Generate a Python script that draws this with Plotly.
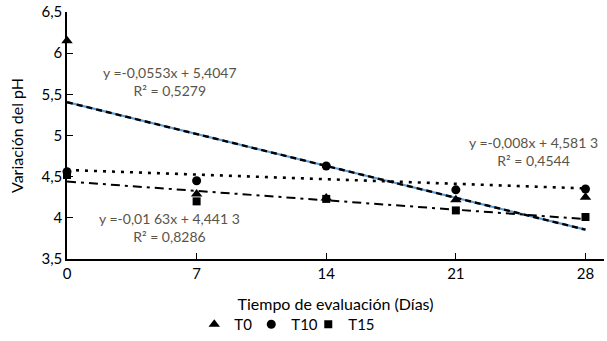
import plotly.graph_objects as go

# Data
dias = [0, 7, 14, 21, 28]
t0 = [6.15, 4.29, 4.24, 4.22, 4.25]
t10 = [4.56, 4.45, 4.63, 4.34, 4.35]
t15 = [4.52, 4.20, 4.23, 4.09, 4.01]
series_names = ["T0", "T10", "T15"]

# Trendline coefficients (as printed)
slopes = [-0.0553, -0.008, -0.0163]
intercepts = [5.4047, 4.5813, 4.4413]
eq_texts = [
    "y =-0,0553x + 5,4047<br>R² = 0,5279",
    "y =-0,008x + 4,581 3<br>R² = 0,4544",
    "y =-0,01 63x + 4,441 3<br>R² = 0,8286",
]
x_ticks = [0, 7, 14, 21, 28]
y_ticks = [3.5, 4, 4.5, 5, 5.5, 6, 6.5]
y_tick_labels = ["3,5", "4", "4,5", "5", "5,5", "6", "6,5"]

FONT = "Lato"
fig = go.Figure()

xs = [dias[0], dias[-1]]


def line_y(i):
    return [intercepts[i] + slopes[i] * x for x in xs]


# T0 trendline: blue underlay + black dashes
fig.add_trace(go.Scatter(x=xs, y=line_y(0), mode="lines", showlegend=False,
                         line=dict(color="#5b9bd5", width=2.2), hoverinfo="skip"))
fig.add_trace(go.Scatter(x=xs, y=line_y(0), mode="lines", showlegend=False,
                         line=dict(color="black", width=2.4, dash="6px,4px"), hoverinfo="skip"))
# T10 dotted
fig.add_trace(go.Scatter(x=xs, y=line_y(1), mode="lines", showlegend=False,
                         line=dict(color="black", width=2.6, dash="3px,6px"), hoverinfo="skip"))
# T15 dash-dot
fig.add_trace(go.Scatter(x=xs, y=line_y(2), mode="lines", showlegend=False,
                         line=dict(color="black", width=2, dash="9px,5px,3px,5px"), hoverinfo="skip"))

symbols = ["triangle-up", "circle", "square"]
sizes = [10, 9, 8]
for i, ys in enumerate([t0, t10, t15]):
    fig.add_trace(go.Scatter(x=dias, y=ys, mode="markers", name=series_names[i], cliponaxis=False,
                             marker=dict(symbol=symbols[i], size=sizes[i], color="black")))
# invisible spacer entry so the last legend label is not clipped
fig.add_trace(go.Scatter(x=[None], y=[None], mode="markers", name=" ",
                         marker=dict(color="rgba(0,0,0,0)"), hoverinfo="skip"))

ann_pos = [(5.56, 5.66), (25.2, 4.80), (5.56, 3.88)]
for (ax, ay), txt in zip(ann_pos, eq_texts):
    fig.add_annotation(x=ax, y=ay, xref="x", yref="y", text=txt, showarrow=False,
                       align="center", font=dict(family=FONT, size=14, color="#5a5448"))

fig.update_layout(
    width=607, height=341,
    margin=dict(l=67, r=3, t=12, b=82, autoexpand=False),
    paper_bgcolor="white", plot_bgcolor="white",
    font=dict(family=FONT, size=14, color="black"),
    legend=dict(orientation="h", x=0.237, xanchor="left", y=-0.265, yanchor="middle",
                font=dict(family=FONT, size=15), itemwidth=30, tracegroupgap=0,
                entrywidth=12, entrywidthmode="pixels"),
)
fig.update_xaxes(range=[0, 29], tickvals=x_ticks, ticktext=[str(v) for v in x_ticks],
                 showline=True, linecolor="black", linewidth=1.5, ticks="inside",
                 ticklen=6, tickcolor="black", tickwidth=1.3, showgrid=False, zeroline=False,
                 title=dict(text="Tiempo de evaluación (Días)", standoff=18,
                            font=dict(family=FONT, size=16)),
                 tickfont=dict(family=FONT, size=15))
fig.update_yaxes(range=[3.5, 6.5], tickvals=y_ticks, ticktext=y_tick_labels,
                 showline=True, linecolor="black", linewidth=1.5, ticks="inside",
                 ticklen=6, tickcolor="black", tickwidth=1.3, showgrid=False, zeroline=False,
                 ticklabeloverflow="allow",
                 title=dict(text="Variación del pH", standoff=14,
                            font=dict(family=FONT, size=16)),
                 tickfont=dict(family=FONT, size=15))

fig.write_html("out.html", config={"displayModeBar": False},
               post_script="document.body.style.margin='0';")
